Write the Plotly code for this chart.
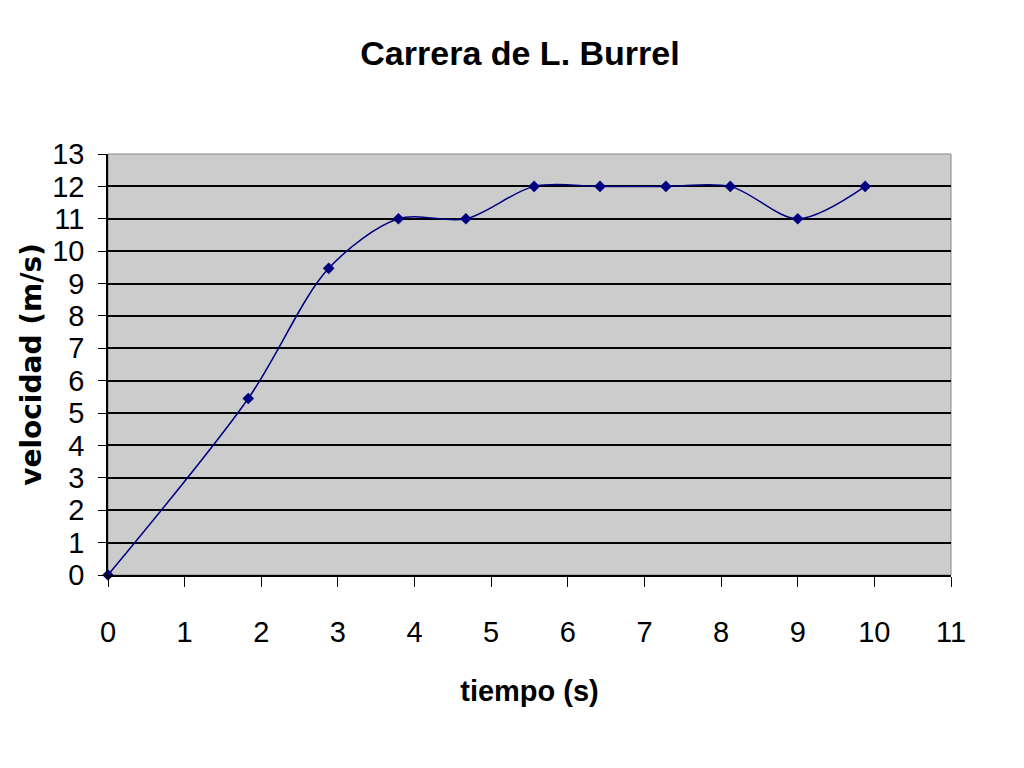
import plotly.graph_objects as go

tiempo = [0, 1.83, 2.88, 3.79, 4.67, 5.56, 6.42, 7.28, 8.12, 9.0, 9.88]
velocidad = [0, 5.45, 9.47, 11, 11, 12, 12, 12, 12, 11, 12]
x_ticks = list(range(0, 12))
y_ticks = list(range(0, 14))

sans = "Liberation Sans, Arial, sans-serif"

fig = go.Figure()
fig.add_trace(go.Scatter(
    x=tiempo, y=velocidad, mode="lines+markers",
    line=dict(color="#000080", width=1.5, shape="spline", smoothing=0.9),
    marker=dict(symbol="diamond", size=9, color="#000080"),
    cliponaxis=False,
))

fig.update_layout(
    width=1024, height=768,
    paper_bgcolor="white", plot_bgcolor="#cccccc",
    margin=dict(l=100, r=81, t=146, b=201),
    showlegend=False,
    title=dict(text="<b>Carrera de L. Burrel</b>", x=0.5, xanchor="center",
               y=1 - 45/768, yanchor="middle",
               font=dict(family=sans, size=34, color="black")),
    xaxis=dict(range=[0, 11], tickvals=x_ticks, ticks="outside", ticklen=10,
               tickcolor="black", showgrid=False, zeroline=False, automargin=False,
               showline=True, linecolor="black", linewidth=1.5,
               ticklabelstandoff=20,
               tickfont=dict(family=sans, size=29, color="black"),
               title=dict(text="<b>tiempo (s)</b>", standoff=34,
                          font=dict(family=sans, size=29, color="black"))),
    yaxis=dict(range=[0, 13], tickvals=y_ticks, ticks="outside", ticklen=8,
               tickcolor="black", showgrid=True, gridcolor="black", gridwidth=1.5,
               zeroline=False, showline=True, linecolor="black", linewidth=1.5,
               automargin=False, ticklabelstandoff=8,
               tickfont=dict(family=sans, size=29, color="black"),
               title=dict(text="<b>velocidad (m/s)</b>", standoff=2,
                          font=dict(family="DejaVu Sans, sans-serif", size=28, color="black"))),
)
fig.add_shape(type="rect", xref="paper", yref="paper", x0=0, x1=1, y0=0, y1=1,
              line=dict(color="#888888", width=1), layer="below")

fig.write_html("out.html")
